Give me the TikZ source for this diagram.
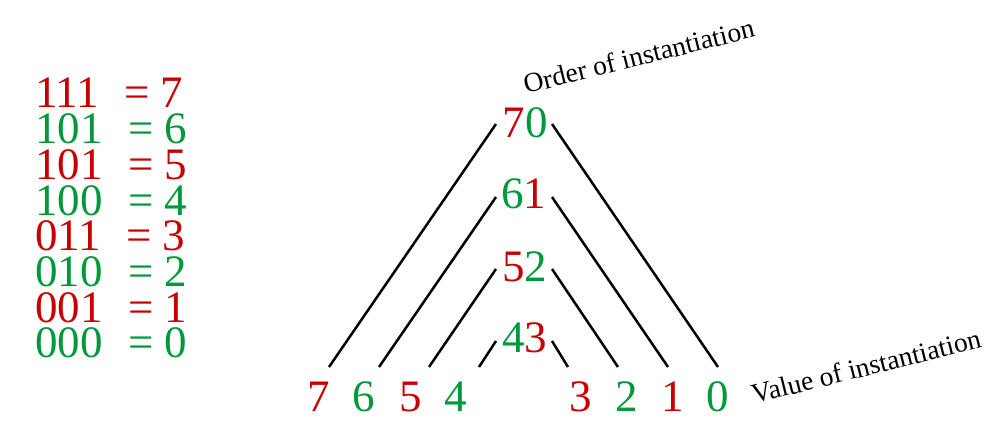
\documentclass[tikz,border=0pt]{standalone}
\usepackage{fontspec}
\setmainfont{Liberation Serif}
\definecolor{rd}{RGB}{200,0,0}
\definecolor{gn}{RGB}{0,153,58}
\begin{document}
\begin{tikzpicture}[x=1pt,y=-1pt,
  big/.style={font=\fontsize{45}{45}\selectfont, inner sep=0pt, outer sep=0pt, anchor=base},
  bits/.style={big, anchor=base west},
  lab/.style={font=\fontsize{27.5}{27.5}\selectfont, inner sep=0pt, anchor=base west, rotate=14},
  arm/.style={draw=black, line width=2.5pt}]
\useasboundingbox (0,0) rectangle (1002,438);
% left table
\node[bits, text=rd] (b7) at (35,108) {111};
\node[bits, text=rd] (e7) at (124,108) {= 7};
\node[bits, text=gn] (b6) at (35,143.7) {101};
\node[bits, text=gn] (e6) at (128,143.7) {= 6};
\node[bits, text=rd] (b5) at (35,179.4) {101};
\node[bits, text=rd] (e5) at (128,179.4) {= 5};
\node[bits, text=gn] (b4) at (35,215.1) {100};
\node[bits, text=gn] (e4) at (128,215.1) {= 4};
\node[bits, text=rd] (b3) at (35,250.8) {011};
\node[bits, text=rd] (e3) at (126,250.8) {= 3};
\node[bits, text=gn] (b2) at (35,286.5) {010};
\node[bits, text=gn] (e2) at (128,286.5) {= 2};
\node[bits, text=rd] (b1) at (35,322.2) {001};
\node[bits, text=rd] (e1) at (128,322.2) {= 1};
\node[bits, text=gn] (b0) at (35,358) {000};
\node[bits, text=gn] (e0) at (128,358) {= 0};
% pair labels
\node[big] (p70) at (525,138) {\textcolor{rd}{7}\textcolor{gn}{0}};
\node[big] (p61) at (523.5,209) {\textcolor{gn}{6}\textcolor{rd}{1}};
\node[big] (p52) at (524.5,282) {\textcolor{rd}{5}\textcolor{gn}{2}};
\node[big] (p43) at (524.5,353) {\textcolor{gn}{4}\textcolor{rd}{3}};
% bottom values
\node[big, text=rd] (v7) at (319,412) {7};
\node[big, text=gn] (v6) at (364,412) {6};
\node[big, text=rd] (v5) at (411,412) {5};
\node[big, text=gn] (v4) at (456,412) {4};
\node[big, text=rd] (v3) at (581,412) {3};
\node[big, text=gn] (v2) at (627,412) {2};
\node[big, text=rd] (v1) at (673,412) {1};
\node[big, text=gn] (v0) at (718,412) {0};
% arm end points
\coordinate (l7) at (329,367);  \coordinate (t70l) at (496,124);
\coordinate (l6) at (379,367);  \coordinate (t61l) at (496,197);
\coordinate (l5) at (429,367);  \coordinate (t52l) at (496,269);
\coordinate (l4) at (479,367);  \coordinate (t43l) at (496,341);
\coordinate (r0) at (718,367);  \coordinate (t70r) at (552,124);
\coordinate (r1) at (668,367);  \coordinate (t61r) at (552,197);
\coordinate (r2) at (618,367);  \coordinate (t52r) at (552,269);
\coordinate (r3) at (568,367);  \coordinate (t43r) at (552,341);
\draw[arm] (l7) -- (t70l);
\draw[arm] (l6) -- (t61l);
\draw[arm] (l5) -- (t52l);
\draw[arm] (l4) -- (t43l);
\draw[arm] (t70r) -- (r0);
\draw[arm] (t61r) -- (r1);
\draw[arm] (t52r) -- (r2);
\draw[arm] (t43r) -- (r3);
% axis labels
\node[lab] (order) at (526,94) {Order of instantiation};
\node[lab] (value) at (754,404) {Value of instantiation};
\end{tikzpicture}
\end{document}
